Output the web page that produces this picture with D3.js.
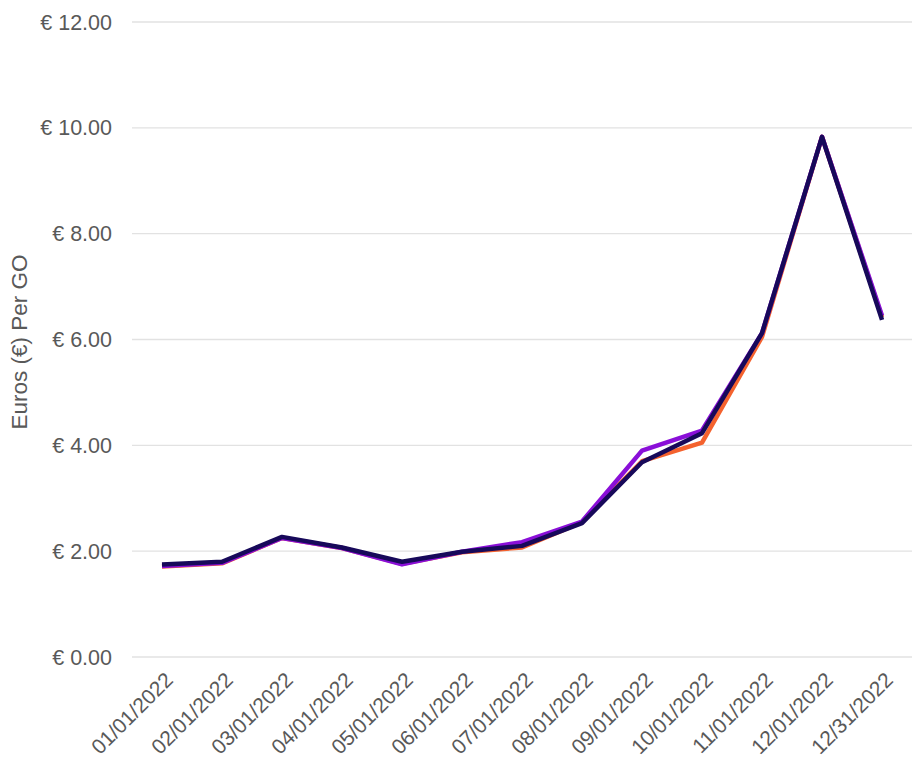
<!DOCTYPE html>
<html><head><meta charset="utf-8">
<script src="https://cdn.jsdelivr.net/npm/d3@7"></script>
<style>body{margin:0;background:#fff;font-family:Arial,"Liberation Sans",sans-serif;}</style>
</head><body><svg id="c" width="922" height="768"></svg>
<script>
const dates = ["01/01/2022","02/01/2022","03/01/2022","04/01/2022","05/01/2022","06/01/2022","07/01/2022","08/01/2022","09/01/2022","10/01/2022","11/01/2022","12/01/2022","12/31/2022"];
const seriesOrange = [1.71,1.77,2.25,2.06,1.76,1.98,2.07,2.55,3.70,4.05,6.05,9.83,6.42];
const seriesPurple = [1.72,1.78,2.25,2.06,1.75,1.99,2.17,2.56,3.90,4.28,6.12,9.83,6.45];
const seriesNavy   = [1.75,1.80,2.27,2.07,1.80,1.99,2.10,2.53,3.68,4.23,6.12,9.83,6.37];
const yTicks = [0,2,4,6,8,10,12];
const series = [
  {name:"A", values:seriesOrange, color:"#f4622e"},
  {name:"B", values:seriesPurple, color:"#8a0fd8"},
  {name:"C", values:seriesNavy, color:"#17095a"}
];
const svg = d3.select("#c");
const x = d3.scalePoint().domain(dates).range([132,912]).padding(0.5);
const y = d3.scaleLinear().domain([0,12]).range([657,22]);
const g = svg.append("g");
g.selectAll("line.grid").data(yTicks).join("line")
  .attr("x1",132).attr("x2",912).attr("y1",d=>y(d)).attr("y2",d=>y(d))
  .attr("stroke","#e2e2e2").attr("stroke-width",1.3);
g.selectAll("text.yt").data(yTicks).join("text")
  .attr("x",112).attr("y",d=>y(d)).attr("dy","0.35em").attr("text-anchor","end")
  .attr("font-size",21.5).attr("fill","#595959").text(d=>"€ "+d.toFixed(2));
g.selectAll("text.xt").data(dates).join("text")
  .attr("transform",d=>`translate(${x(d)+7},${676}) rotate(-45)`)
  .attr("text-anchor","end").attr("dy","0.35em")
  .attr("font-size",21).attr("fill","#595959").text(d=>d);
svg.append("text").attr("transform","translate(27,342) rotate(-90)")
  .attr("text-anchor","middle").attr("font-size",22.5).attr("fill","#595959")
  .text("Euros (€) Per GO");
const line = d3.line().x((d,i)=>x(dates[i])).y(d=>y(d));
svg.selectAll("path.s").data(series).join("path")
  .attr("d",d=>line(d.values)).attr("fill","none")
  .attr("stroke",d=>d.color).attr("stroke-width",4.5).attr("stroke-linejoin","round");
</script></body></html>
